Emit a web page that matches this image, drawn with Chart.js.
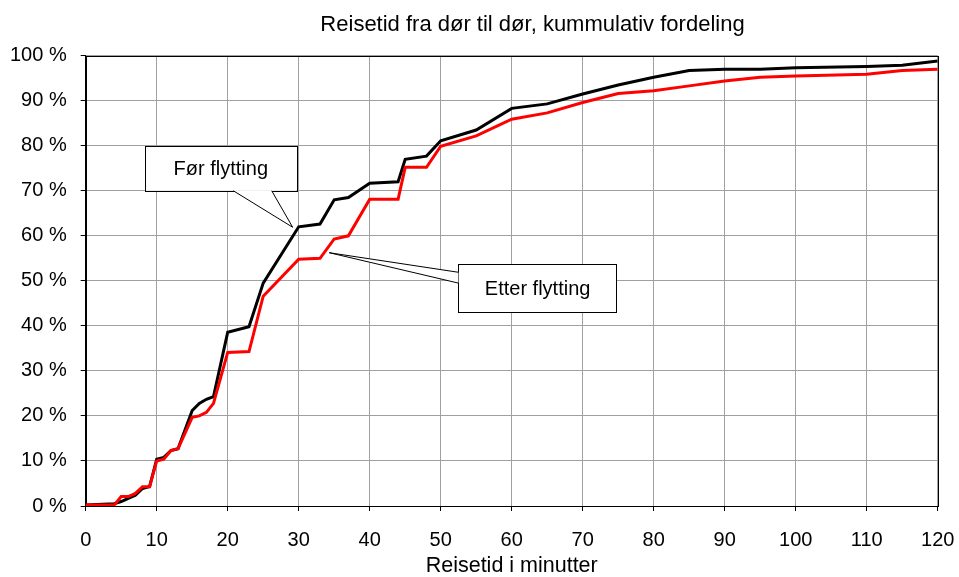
<!DOCTYPE html>
<html>
<head>
<meta charset="utf-8">
<script src="https://cdn.jsdelivr.net/npm/chart.js@4/dist/chart.umd.min.js"></script>
<style>
  html, body { margin: 0; padding: 0; background: #fff; }
  #wrap { width: 959px; height: 577px; position: relative; }
</style>
</head>
<body>
<div id="wrap"><canvas id="c" width="959" height="577"></canvas></div>
<script>
// ---- Data ----
const chartTitle = 'Reisetid fra dør til dør, kummulativ fordeling';
const xAxisTitle = 'Reisetid i minutter';
const minutes = [0,4,5,6,7,8,9,10,11,12,13,15,16,17,18,20,23,25,30,33,35,37,40,44,45,48,50,55,60,65,70,75,80,85,90,95,100,110,115,120];
const forFlytting = [0.2,0.5,1.0,1.7,2.4,3.9,4.3,10.4,10.8,12.3,12.7,21.2,22.8,23.7,24.3,38.6,39.8,49.5,62.0,62.6,68.0,68.5,71.7,72.0,77.0,77.7,81.1,83.5,88.3,89.3,91.5,93.5,95.2,96.7,97.0,97.0,97.3,97.6,97.9,98.8];
const etterFlytting = [0.2,0.2,2.1,2.1,2.8,4.3,4.3,10.0,10.4,12.3,12.7,19.7,20.0,20.8,22.8,34.1,34.3,46.6,54.8,55.0,59.3,60.0,68.1,68.1,75.2,75.2,79.9,82.2,85.9,87.3,89.6,91.6,92.2,93.3,94.4,95.2,95.5,95.9,96.7,97.0];
const seriesNames = ['Før flytting', 'Etter flytting'];
const xTicks = [0,10,20,30,40,50,60,70,80,90,100,110,120];
const yTicks = [0,10,20,30,40,50,60,70,80,90,100];

// Callout annotations (data coordinates)
const callouts = [
  { text: seriesNames[0], box: [8.35, 79.9, 29.7, 70.0], base: [[20.8, 70.0], [26.2, 70.0]], tip: [29.15, 61.9] },
  { text: seriesNames[1], box: [52.5, 53.7, 74.8, 43.0], base: [[52.5, 51.9], [52.5, 49.5]], tip: [34.3, 56.25] }
];

const FONT = '"Liberation Sans", Arial, Helvetica, sans-serif';

const toPts = (xs, ys) => xs.map((x, i) => ({ x: x, y: ys[i] }));

const decor = {
  id: 'decor',
  beforeDatasetsDraw(chart) {
    const { ctx, chartArea: a } = chart;
    ctx.save();
    ctx.strokeStyle = '#000';
    ctx.lineWidth = 1;
    ctx.strokeRect(Math.round(a.left) + 0.5, Math.round(a.top) + 0.5, Math.round(a.right) - Math.round(a.left), Math.round(a.bottom) - Math.round(a.top));
    ctx.restore();
  },
  afterDatasetsDraw(chart) {
    const { ctx, scales: { x, y } } = chart;
    ctx.save();
    callouts.forEach(c => {
      const l = x.getPixelForValue(c.box[0]), t = y.getPixelForValue(c.box[1]);
      const r = x.getPixelForValue(c.box[2]), b = y.getPixelForValue(c.box[3]);
      const b1 = [x.getPixelForValue(c.base[0][0]), y.getPixelForValue(c.base[0][1])];
      const b2 = [x.getPixelForValue(c.base[1][0]), y.getPixelForValue(c.base[1][1])];
      const tp = [x.getPixelForValue(c.tip[0]), y.getPixelForValue(c.tip[1])];
      ctx.fillStyle = '#fff';
      ctx.fillRect(l, t, r - l, b - t);
      ctx.strokeStyle = '#000';
      ctx.lineWidth = 1;
      ctx.strokeRect(Math.round(l) + 0.5, Math.round(t) + 0.5, Math.round(r - l), Math.round(b - t));
      ctx.beginPath();
      ctx.moveTo(b1[0], b1[1]);
      ctx.lineTo(tp[0], tp[1]);
      ctx.lineTo(b2[0], b2[1]);
      ctx.closePath();
      ctx.fillStyle = '#fff';
      ctx.fill();
      ctx.beginPath();
      ctx.moveTo(b1[0], b1[1]);
      ctx.lineTo(tp[0], tp[1]);
      ctx.lineTo(b2[0], b2[1]);
      ctx.strokeStyle = '#000';
      ctx.stroke();
      ctx.fillStyle = '#000';
      ctx.font = '20px ' + FONT;
      ctx.textAlign = 'center';
      ctx.textBaseline = 'middle';
      ctx.fillText(c.text, (l + r) / 2, (t + b) / 2 + 1);
    });
    ctx.font = '22px ' + FONT;
    ctx.fillStyle = '#000';
    ctx.textAlign = 'center';
    ctx.textBaseline = 'alphabetic';
    ctx.fillText(chartTitle, 532.5, 31);
    ctx.restore();
  }
};

new Chart(document.getElementById('c'), {
  type: 'line',
  data: {
    datasets: [
      { label: seriesNames[1], data: toPts(minutes, etterFlytting), borderColor: '#ff0000', borderWidth: 3, pointRadius: 0, tension: 0, fill: false, order: 0 },
      { label: seriesNames[0], data: toPts(minutes, forFlytting), borderColor: '#000000', borderWidth: 3, pointRadius: 0, tension: 0, fill: false, order: 1 }
    ]
  },
  options: {
    responsive: false,
    animation: false,
    devicePixelRatio: 1,
    layout: { padding: { top: 55.7, right: 21.3, left: 0, bottom: 0 } },
    plugins: { legend: { display: false }, tooltip: { enabled: false }, title: { display: false } },
    scales: {
      x: {
        type: 'linear', min: 0, max: 120,
        afterBuildTicks(s) { s.ticks = xTicks.map(v => ({ value: v })); },
        afterFit(s) { s.height = 71; s.paddingLeft = 0; s.paddingRight = 0; },
        grid: { color: '#a0a0a0', lineWidth: 1, tickLength: 5, tickColor: '#000', drawTicks: true },
        border: { color: '#000', width: 1 },
        ticks: { color: '#000', font: { family: FONT, size: 20 }, padding: 17, maxRotation: 0, autoSkip: false },
        title: { display: true, text: xAxisTitle, color: '#000', font: { family: FONT, size: 21.5, lineHeight: 1 }, padding: 0 }
      },
      y: {
        type: 'linear', min: 0, max: 100,
        afterBuildTicks(s) { s.ticks = yTicks.map(v => ({ value: v })); },
        afterFit(s) { s.width = 85.7; s.paddingTop = 0; s.paddingBottom = 0; },
        grid: { color: '#a0a0a0', lineWidth: 1, tickLength: 5, tickColor: '#000', drawTicks: true },
        border: { color: '#000', width: 1 },
        ticks: { color: '#000', font: { family: FONT, size: 20 }, padding: 14, callback: v => v + ' %' }
      }
    }
  },
  plugins: [decor]
});
</script>
</body>
</html>
